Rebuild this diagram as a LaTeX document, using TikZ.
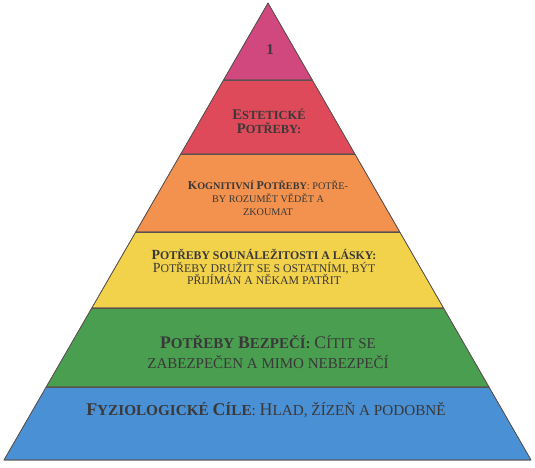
\documentclass[tikz,border=0pt]{standalone}
\usepackage{fontspec}
\setmainfont{Liberation Serif}
\usetikzlibrary{calc}
\definecolor{cMag}{HTML}{D0487E}
\definecolor{cRed}{HTML}{DE4A5A}
\definecolor{cOra}{HTML}{F2924E}
\definecolor{cYel}{HTML}{F2D24A}
\definecolor{cGre}{HTML}{4A9E50}
\definecolor{cBlu}{HTML}{4A90D4}
\definecolor{cTxt}{HTML}{3A3838}
\definecolor{cEdge}{HTML}{5A5050}
\makeatletter
\newcommand\K[1]{{\fontsize{\dimexpr 1.18\dimexpr\f@size pt\relax\relax}{0pt}\selectfont #1}}
\makeatother
\tikzset{
  band/.style={draw=cEdge, line width=0.6pt, line join=round},
  lbl/.style={text=cTxt, align=center, inner sep=0pt},
}
\begin{document}
\begin{tikzpicture}[x=1pt,y=-1pt]
\useasboundingbox[fill=white] (0,0) rectangle (535,467);
\coordinate (apex) at (268,3);
\coordinate (bl) at (4,460);
\coordinate (br) at (531,460);
\foreach \n/\t in {1/0.1685,2/0.3304,3/0.5011,4/0.6674,5/0.8403}{
  \coordinate (l\n) at ($(apex)!\t!(bl)$);
  \coordinate (r\n) at ($(apex)!\t!(br)$);
}
\fill[band, fill=cMag] (apex) -- (r1) -- (l1) -- cycle;
\fill[band, fill=cRed] (l1) -- (r1) -- (r2) -- (l2) -- cycle;
\fill[band, fill=cOra] (l2) -- (r2) -- (r3) -- (l3) -- cycle;
\fill[band, fill=cYel] (l3) -- (r3) -- (r4) -- (l4) -- cycle;
\fill[band, fill=cGre] (l4) -- (r4) -- (r5) -- (l5) -- cycle;
\fill[band, fill=cBlu] (l5) -- (r5) -- (br) -- (bl) -- cycle;
\draw[band] (l1) -- (r1) (l2) -- (r2) (l3) -- (r3) (l4) -- (r4) (l5) -- (r5);
\draw[band] (apex) -- (bl) -- (br) -- cycle;

\node[lbl, font=\bfseries\fontsize{15}{15}\selectfont] (t1) at (270,50) {1};
\node[lbl, font=\bfseries\fontsize{12.4}{14}\selectfont] (t2) at (269,121)
  {\K{E}STETICKÉ\\ \K{P}OTŘEBY:};
\node[lbl, font=\fontsize{10.2}{13}\selectfont] (t3) at (268,198)
  {{\bfseries \K{K}OGNITIVNÍ \K{P}OTŘEBY}: POTŘE-\\BY ROZUMĚT VĚDĚT A\\ZKOUMAT};
\node[lbl, font=\fontsize{11.8}{12.8}\selectfont] (t4) at (264,267)
  {{\bfseries \K{P}OTŘEBY SOUNÁLEŽITOSTI A LÁSKY:}\\\K{P}OTŘEBY DRUŽIT SE S OSTATNÍMI, BÝT\\PŘIJÍMÁN A NĚKAM PATŘIT};
\node[lbl, font=\fontsize{15}{19.5}\selectfont] (t5) at (268,352)
  {{\bfseries \K{P}OTŘEBY \K{B}EZPEČÍ:} \K{C}ÍTIT SE\\ZABEZPEČEN A MIMO NEBEZPEČÍ};
\node[lbl, font=\fontsize{15.2}{16}\selectfont] (t6) at (266,410)
  {{\bfseries \K{F}YZIOLOGICKÉ \K{C}ÍLE}: \K{H}LAD, ŽÍZEŇ A PODOBNĚ};
\end{tikzpicture}
\end{document}
